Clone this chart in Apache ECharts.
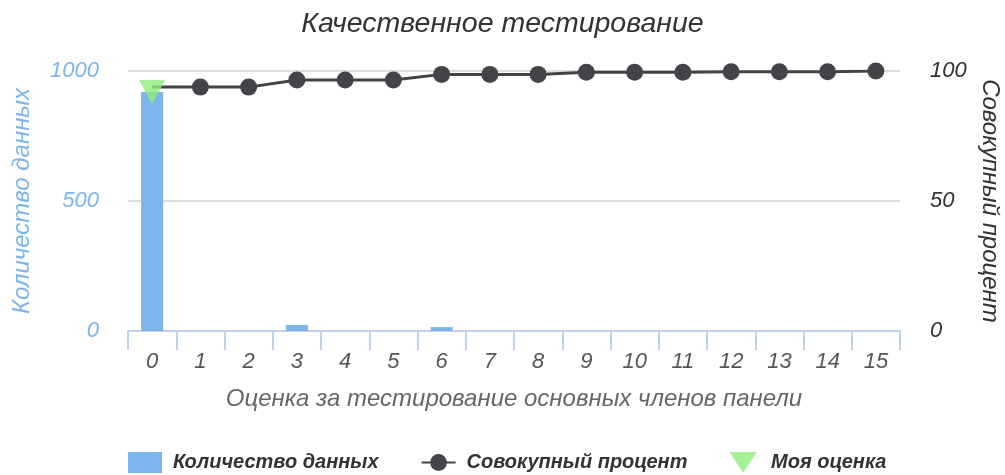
<!DOCTYPE html>
<html><head><meta charset="utf-8">
<script src="https://cdn.jsdelivr.net/npm/echarts@6/dist/echarts.min.js"></script>
<style>html,body{margin:0;padding:0;background:#fff}#c{width:1005px;height:475px}</style>
</head><body><div id="c"></div>
<script>
const categories = ['0','1','2','3','4','5','6','7','8','9','10','11','12','13','14','15'];
const counts = [919, 0, 0, 23, 0, 0, 15, 0, 0, 0, 0, 0, 0, 0, 0, 0];
const cumulative = [93.8, 93.8, 93.8, 96.5, 96.5, 96.5, 98.7, 98.7, 98.7, 99.5, 99.5, 99.5, 99.7, 99.7, 99.7, 100];
const myScore = [[0, 919]];
const leftTicks = [0, 500, 1000];
const rightTicks = [0, 50, 100];

const FONT = '"Liberation Sans", Arial, sans-serif';
const chart = echarts.init(document.getElementById('c'), null, {renderer: 'canvas'});
const lineData = cumulative.map((v, i) => i === myScore[0][0] ? {value: v, symbol: 'none'} : v);
chart.setOption({
  animation: false,
  textStyle: {fontFamily: FONT},
  title: {
    text: 'Качественное тестирование', left: 'center', top: 5,
    textStyle: {fontFamily: FONT, fontStyle: 'italic', fontWeight: 'normal', fontSize: 28.5, color: '#333'}
  },
  grid: {left: 128, right: 105, top: 71, bottom: 144, containLabel: false, outerBoundsMode: 'none'},
  legend: {
    bottom: 2, left: 128, padding: 0, itemGap: 42, itemWidth: 34, itemHeight: 21,
    textStyle: {fontFamily: FONT, fontStyle: 'italic', fontWeight: 'bold', fontSize: 20, color: '#333', padding: [0, 0, 0, 6]},
    data: [
      {name: 'Количество данных', icon: 'rect'},
      {name: 'Совокупный процент'},
      {name: 'Моя оценка', icon: 'path://M0,0 L13,0 L6.5,10 Z'}
    ]
  },
  xAxis: {
    type: 'category', data: categories, boundaryGap: true,
    name: 'Оценка за тестирование основных членов панели', nameLocation: 'middle', nameGap: 56,
    nameTextStyle: {fontFamily: FONT, fontStyle: 'italic', fontSize: 24, color: '#666'},
    axisLine: {lineStyle: {color: '#c0d0e6', width: 2}},
    axisTick: {show: true, length: 19, lineStyle: {color: '#c0d0e6', width: 2}},
    axisLabel: {margin: 20, fontFamily: FONT, fontStyle: 'italic', fontSize: 22, color: '#555'}
  },
  yAxis: [
    {
      type: 'value', min: 0, max: 1000, interval: 500,
      name: 'Количество данных', nameLocation: 'middle', nameGap: 94,
      nameTextStyle: {fontFamily: FONT, fontStyle: 'italic', fontSize: 24, color: '#7cb5ec'},
      axisLine: {show: false}, axisTick: {show: false},
      axisLabel: {margin: 29, padding: [5, 0, 0, 0], fontFamily: FONT, fontStyle: 'italic', fontSize: 22, color: '#7cb5ec',
        formatter: v => leftTicks.includes(v) ? String(v) : ''},
      splitLine: {lineStyle: {color: '#dddddd', width: 2}}
    },
    {
      type: 'value', min: 0, max: 100, interval: 50, position: 'right',
      name: 'Совокупный процент', nameLocation: 'middle', nameGap: 78, nameRotate: -90,
      nameTextStyle: {fontFamily: FONT, fontStyle: 'italic', fontSize: 24, color: '#333'},
      axisLine: {show: false}, axisTick: {show: false},
      axisLabel: {margin: 30, padding: [7, 0, 0, 0], fontFamily: FONT, fontStyle: 'italic', fontSize: 22, color: '#333',
        formatter: v => rightTicks.includes(v) ? String(v) : ''},
      splitLine: {show: false}
    }
  ],
  series: [
    {
      name: 'Количество данных', type: 'bar', data: counts, barWidth: 22,
      itemStyle: {color: '#7cb5ec'}, z: 2
    },
    {
      name: 'Совокупный процент', type: 'line', yAxisIndex: 1, data: lineData,
      symbol: 'circle', symbolSize: 17, lineStyle: {color: '#434348', width: 3},
      itemStyle: {color: '#434348'}, z: 3
    },
    {
      name: 'Моя оценка', type: 'scatter', data: myScore,
      symbol: 'path://M0,0 L10,0 L5,10 Z', symbolSize: [26, 24],
      itemStyle: {color: '#90ed7d'}, z: 4
    }
  ]
});
</script></body></html>
